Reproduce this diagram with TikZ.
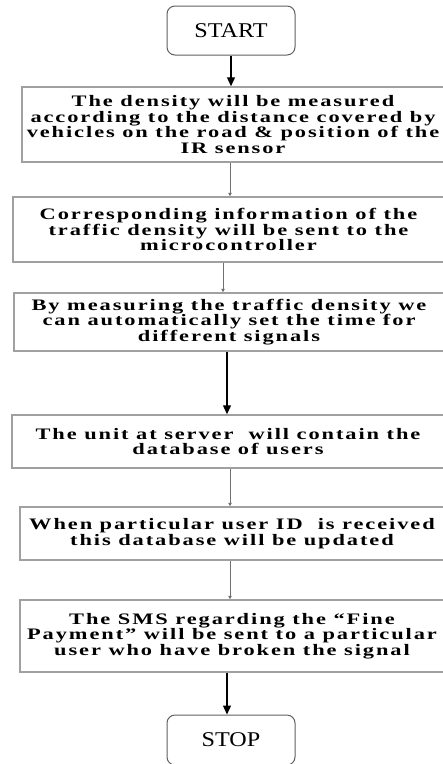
\documentclass[tikz,border=0pt]{standalone}
\usepackage{fontspec}
\setmainfont{Liberation Serif}
\newfontfamily\boxfont{Liberation Serif}[FakeStretch=1.4,LetterSpace=12]
\newfontfamily\termfont{Liberation Serif}[FakeStretch=1.15]
\usetikzlibrary{arrows.meta}
\definecolor{boxgray}{HTML}{A0A0A0}
\definecolor{termgray}{HTML}{606060}
\definecolor{thingray}{HTML}{707070}
\tikzset{
  term/.style={draw=termgray, line width=1pt, rounded corners=8pt, inner sep=0pt,
    font=\termfont\fontsize{21}{24}\selectfont},
  procbox/.style={draw=boxgray, line width=1.5pt, inner sep=0pt, align=center,
    font=\boxfont\bfseries\fontsize{16}{15.5}\selectfont},
  bigarrow/.style={line width=1.3pt, -{Triangle[width=8pt,length=9pt]}},
  thinarrow/.style={draw=thingray, line width=0.9pt, -{Triangle[width=3.5pt,length=3.5pt]}, thingray},
}
\begin{document}
\begin{tikzpicture}[x=1pt,y=-1pt]
\useasboundingbox (0,0) rectangle (443,764);
\node[term, minimum width=128pt, minimum height=49pt] (start) at (231,30.5) {START};
\node[procbox, minimum width=422pt, minimum height=75pt] (b1) at (233,124.5)
  {The density will be measured\\according to the distance covered by\\vehicles on the road \& position of the\\IR sensor};
\node[procbox, minimum width=431pt, minimum height=65pt] (b2) at (228.5,229.5)
  {Corresponding information of the\\traffic density will be sent to the\\microcontroller};
\node[procbox, minimum width=430pt, minimum height=58pt] (b3) at (229,322)
  {By measuring the traffic density we\\can automatically set the time for\\different signals};
\node[procbox, minimum width=432pt, minimum height=53pt] (b4) at (228,441.5)
  {The unit at server\ \ will contain the\\database of users};
\node[procbox, minimum width=424pt, minimum height=53pt] (b5) at (232,533.5)
  {When particular user ID\ \ is received\\this database will be updated};
\node[procbox, minimum width=424pt, minimum height=72pt] (b6) at (232,636)
  {The SMS regarding the “Fine\\Payment” will be sent to a particular\\user who have broken the signal};
\node[term, minimum width=128pt, minimum height=50pt] (stop) at (231,740) {STOP};
\coordinate (a1) at (231,0);
\coordinate (a2) at (230,0);
\coordinate (a3) at (223,0);
\coordinate (a4) at (227,0);
\coordinate (a5) at (230,0);
\coordinate (a6) at (230,0);
\coordinate (a7) at (227,0);
\draw[bigarrow] (start.south -| a1) -- (b1.north -| a1);
\draw[thinarrow] (b1.south -| a2) -- (b2.north -| a2);
\draw[thinarrow] (b2.south -| a3) -- (b3.north -| a3);
\draw[bigarrow] (b3.south -| a4) -- (b4.north -| a4);
\draw[thinarrow] (b4.south -| a5) -- (b5.north -| a5);
\draw[thinarrow] (b5.south -| a6) -- (b6.north -| a6);
\draw[bigarrow] (b6.south -| a7) -- (stop.north -| a7);
\end{tikzpicture}
\end{document}
